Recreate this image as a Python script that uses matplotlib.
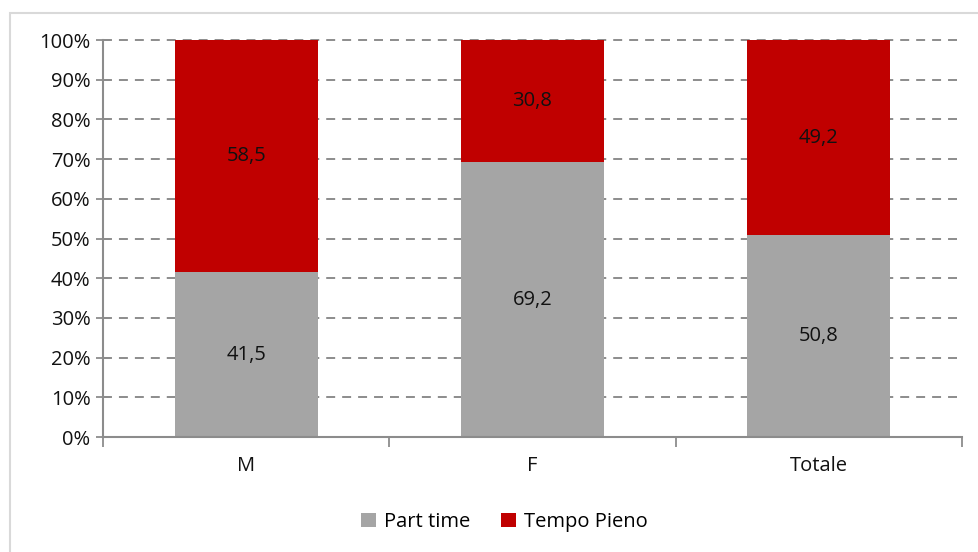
import numpy as np
import matplotlib.pyplot as plt
from matplotlib.patches import Rectangle
from matplotlib.ticker import FuncFormatter

categories = ['M', 'F', 'Totale']
part_time = [41.5, 69.2, 50.8]
tempo_pieno = [58.5, 30.8, 49.2]

plt.rcParams['font.family'] = ['Open Sans', 'DejaVu Sans']
fs = 14.5

fig = plt.figure(figsize=(9.79, 5.52), dpi=100)
ax = fig.add_axes([0.1052, 0.2083, 0.8774, 0.7192])

# frame around chart area (right and bottom edges run off the picture)
fig.patches.append(Rectangle((0.0105, -0.05), 1.1, 1.0264, transform=fig.transFigure,
                             fill=False, edgecolor='#D9D9D9', linewidth=1.5))

x = np.arange(len(categories))
ax.bar(x, part_time, width=0.5, color='#A5A5A5', label='Part time', zorder=2)
ax.bar(x, tempo_pieno, width=0.5, bottom=part_time, color='#C00000', label='Tempo Pieno',
       zorder=2, clip_on=False)

for i in range(len(categories)):
    ax.text(x[i], part_time[i] / 2, f'{part_time[i]:.1f}'.replace('.', ','),
            ha='center', va='center', fontsize=fs, color='#111111', zorder=3)
    ax.text(x[i], part_time[i] + tempo_pieno[i] / 2, f'{tempo_pieno[i]:.1f}'.replace('.', ','),
            ha='center', va='center', fontsize=fs, color='#111111', zorder=3)

ax.set_xlim(-0.5, 2.5)
ax.set_ylim(0, 100)
ax.set_yticks(np.arange(0, 101, 10))
ax.yaxis.set_major_formatter(FuncFormatter(lambda v, p: f'{int(v)}%'))
ax.yaxis.grid(True, linestyle=(0, (4.6, 3.6)), color='#8C8C8C', linewidth=1.4, zorder=1)
for gl in ax.get_ygridlines():
    gl.set_clip_on(False)
ax.set_axisbelow(True)

ax.set_xticks(x)
ax.set_xticklabels(categories)
ax.set_xticks([-0.5, 0.5, 1.5, 2.5], minor=True)
ax.tick_params(axis='x', which='major', length=0, pad=14, labelsize=fs, labelcolor='#111111')
ax.tick_params(axis='x', which='minor', length=7, width=1.3, color='#8C8C8C', direction='out')
ax.tick_params(axis='y', length=10, width=1.3, color='#8C8C8C', direction='inout', pad=4,
               labelsize=fs, labelcolor='#111111')

for s in ['top', 'right']:
    ax.spines[s].set_visible(False)
for s in ['left', 'bottom']:
    ax.spines[s].set_color('#8C8C8C')
    ax.spines[s].set_linewidth(1.5)

ax.legend(loc='center', bbox_to_anchor=(0.5154, 0.0543), bbox_transform=fig.transFigure,
          ncol=2, frameon=False, fontsize=fs, handlelength=0.75, handleheight=0.75,
          handletextpad=0.4, columnspacing=1.5)

fig.savefig('out.png', dpi=100)
